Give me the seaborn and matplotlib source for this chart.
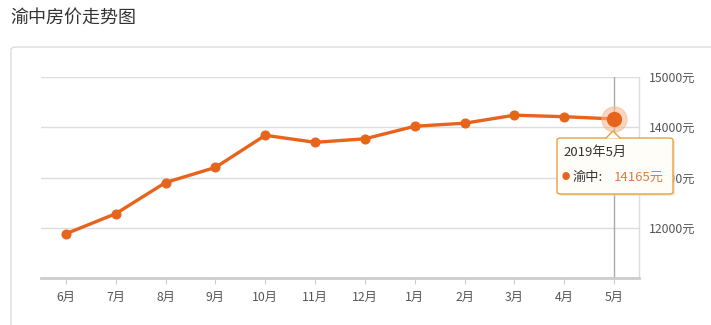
import matplotlib
matplotlib.use("Agg")
import matplotlib.pyplot as plt
import seaborn as sns
import pandas as pd
from matplotlib.patches import FancyBboxPatch, Polygon

months = ["6月", "7月", "8月", "9月", "10月", "11月", "12月", "1月", "2月", "3月", "4月", "5月"]
prices = [11880, 12280, 12900, 13200, 13840, 13700, 13770, 14020, 14080, 14240, 14210, 14165]
ytick_values = [12000, 13000, 14000, 15000]
ytick_labels = ["12000元", "13000元", "14000元", "15000元"]
title = "渝中房价走势图"
tip_title = "2019年5月"
tip_series = "渝中:"
tip_value = "14165元"

sns.set_theme(style="white")
plt.rcParams['font.family'] = ['Noto Sans CJK SC', 'DejaVu Sans']

W, H = 711, 325
fig = plt.figure(figsize=(W / 100, H / 100), dpi=100)
fig.patch.set_facecolor("white")

def fx(px):
    return px / W

def fy(py):
    return 1 - py / H

# panel border
panel = FancyBboxPatch((fx(11), fy(340)), fx(720) - fx(11), fy(47) - fy(340),
                       boxstyle="round,pad=0,rounding_size=0.008", transform=fig.transFigure,
                       facecolor="white", edgecolor="#dcdcdc", linewidth=1.0, zorder=-5)
fig.patches.append(panel)

fig.text(fx(10), fy(18), title, fontsize=13, color="#333333", va="center", ha="left")

ax = fig.add_axes([fx(41), fy(278), fx(639) - fx(41), fy(77) - fy(278)])
ax.set_facecolor("none")
ax.set_zorder(1)
df = pd.DataFrame({"month": months, "price": prices, "idx": range(len(months))})

color = "#e6641c"
sns.lineplot(data=df, x="idx", y="price", ax=ax, color=color, linewidth=2.4,
             marker="o", markersize=6.5, markeredgecolor=color, zorder=3)

ax.set_xlim(-0.5, len(months) - 0.5)
ax.set_ylim(11000, 15000)
ax.set_xticks(range(len(months)))
ax.set_xticklabels(months, fontsize=8.8, color="#555555")
ax.set_yticks(ytick_values)
ax.set_yticklabels(ytick_labels, fontsize=8.8, color="#555555")
ax.yaxis.tick_right()
ax.tick_params(axis="y", length=0, pad=7)
ax.tick_params(axis="x", length=4, width=0.8, color="#cccccc", pad=5, direction="out", bottom=True)
ax.grid(axis="y", color="#dddddd", linewidth=1)
ax.set_xlabel("")
ax.set_ylabel("")
for s in ["top", "left"]:
    ax.spines[s].set_visible(False)
ax.spines["bottom"].set_color("#cccccc")
ax.spines["bottom"].set_linewidth(2)
ax.spines["right"].set_color("#dddddd")
ax.spines["right"].set_linewidth(1)

# hover line and highlighted point
last = len(months) - 1
ax.axvline(last, color="#aaaaaa", linewidth=1, zorder=2)
ax.plot([last], [prices[-1]], "o", markersize=18, color="#f7b58f", alpha=0.55, zorder=4)
ax.plot([last], [prices[-1]], "o", markersize=10, color=color, zorder=5)

# tooltip
tx0, ty0, tx1, ty1 = 557, 138, 673, 194
shadow = FancyBboxPatch((fx(tx0 + 2), fy(ty1 + 2)), fx(tx1) - fx(tx0), fy(ty0) - fy(ty1),
                        boxstyle="round,pad=0,rounding_size=0.006", transform=fig.transFigure,
                        facecolor="#e8d9c8", edgecolor="none", zorder=9, alpha=0.6)
fig.patches.append(shadow)
tip = FancyBboxPatch((fx(tx0), fy(ty1)), fx(tx1) - fx(tx0), fy(ty0) - fy(ty1),
                     boxstyle="round,pad=0,rounding_size=0.006", transform=fig.transFigure,
                     facecolor="#fffdf8", edgecolor="#e8a23a", linewidth=1.0, zorder=10)
fig.patches.append(tip)
tri = Polygon([[fx(606), fy(ty0 + 0.5)], [fx(613), fy(131)], [fx(620), fy(ty0 + 0.5)]],
              closed=True, transform=fig.transFigure, facecolor="#fffdf8",
              edgecolor="none", zorder=11)
fig.patches.append(tri)
fig.add_artist(plt.Line2D([fx(606), fx(613), fx(620)], [fy(ty0), fy(131), fy(ty0)],
                          transform=fig.transFigure, color="#e8a23a", linewidth=1.0, zorder=12))
fig.text(fx(563), fy(152), tip_title, fontsize=9.5, color="#333333", va="center", zorder=13)
fig.text(fx(566), fy(177), "●", fontsize=6, color=color, va="center", ha="center", zorder=13)
fig.text(fx(573), fy(177), tip_series, fontsize=9.5, color="#333333", va="center", zorder=13)
fig.text(fx(614), fy(177), tip_value, fontsize=9.5, color="#e07a3c", va="center", zorder=13)

fig.savefig("out.png", dpi=100, facecolor="white")
